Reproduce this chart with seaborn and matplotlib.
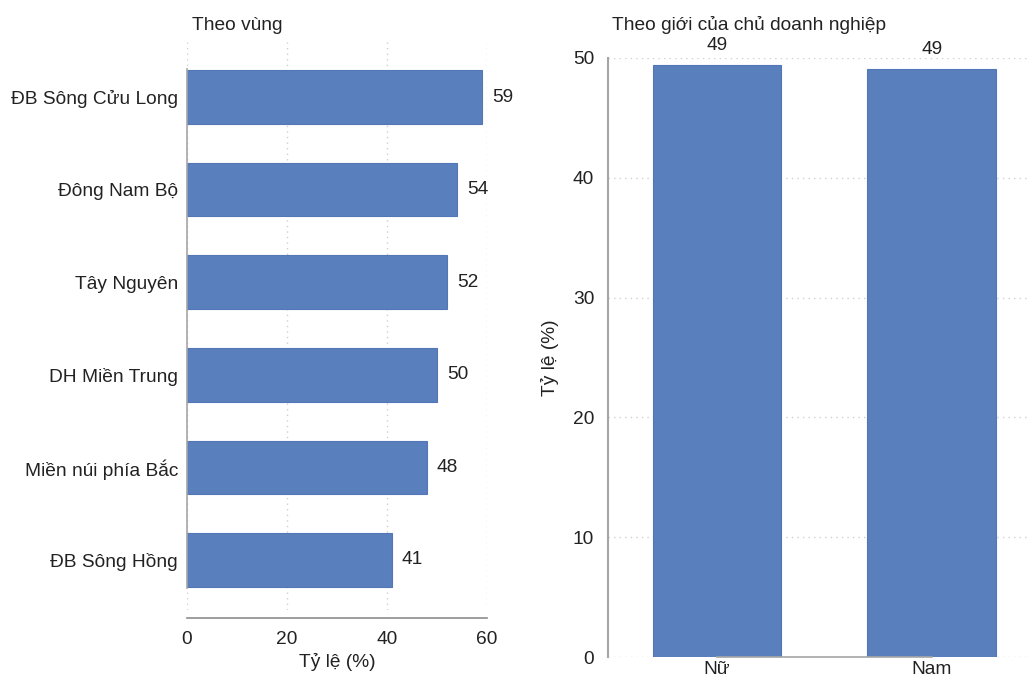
import matplotlib
matplotlib.use("Agg")
import matplotlib.pyplot as plt
import seaborn as sns
import pandas as pd

# Data
regions = ["ĐB Sông Cửu Long", "Đông Nam Bộ", "Tây Nguyên",
           "DH Miền Trung", "Miền núi phía Bắc", "ĐB Sông Hồng"]
region_values = [59, 54, 52, 50, 48, 41]

genders = ["Nữ", "Nam"]
gender_values = [49.4, 49.1]

region_title = "Theo vùng"
gender_title = "Theo giới của chủ doanh nghiệp"
axis_label = "Tỷ lệ (%)"

sns.set_theme(style="white")
plt.rcParams["font.family"] = ["Liberation Sans", "DejaVu Sans"]
plt.rcParams["text.color"] = "#222222"
plt.rcParams["axes.labelcolor"] = "#222222"
plt.rcParams["xtick.color"] = "#222222"
plt.rcParams["ytick.color"] = "#222222"

BAR = "#5a7fbd"
EDGE = "#5276b6"
SPINE = "#a6a6a6"
GRID = "#d0d0d0"
FS = 13.8

W, H = 1027, 681
fig = plt.figure(figsize=(W / 100, H / 100), dpi=100)


def px_axes(left, top, right, bottom):
    return fig.add_axes([left / W, 1 - bottom / H, (right - left) / W, (bottom - top) / H])


# ---- Left panel: by region (horizontal bars)
ax1 = px_axes(187, 42, 487, 610)
df1 = pd.DataFrame({"region": regions, "value": region_values})
sns.barplot(data=df1, x="value", y="region", orient="h", color=BAR,
            width=0.58, saturation=1, edgecolor=EDGE, linewidth=0.8, ax=ax1)
ax1.set_xlim(0, 60)
ax1.set_ylim(5.54, -0.594)
ax1.set_xticks([0, 20, 40, 60])
ax1.xaxis.grid(True, color=GRID, linestyle=(0, (1, 3)), linewidth=1)
ax1.set_axisbelow(True)
for s in ["top", "right"]:
    ax1.spines[s].set_visible(False)
ax1.spines["left"].set_color(SPINE)
ax1.spines["left"].set_linewidth(1.2)
ax1.spines["left"].set_bounds(-0.3, 5.3)
ax1.spines["bottom"].set_color("#8c8c8c")
ax1.spines["bottom"].set_linewidth(1.2)
ax1.spines["bottom"].set_position(("outward", 6))
ax1.tick_params(axis="y", length=0, pad=6.5, labelsize=FS)
ax1.tick_params(axis="x", length=5, width=1.2, color="#8c8c8c", pad=4, labelsize=FS)
ax1.set_ylabel("")
ax1.set_xlabel(axis_label, fontsize=FS, labelpad=4)
for i, v in enumerate(region_values):
    ax1.annotate(f"{v:.0f}", (v, i), xytext=(7, 0), textcoords="offset points",
                 ha="left", va="center", fontsize=FS)

fig.text(192 / W, 1 - 25 / H, region_title, ha="left", va="center", fontsize=FS)

# ---- Right panel: by owner gender (vertical bars)
ax2 = px_axes(608, 58, 1027, 657)
df2 = pd.DataFrame({"gender": genders, "value": gender_values})
sns.barplot(data=df2, x="gender", y="value", color=BAR, width=0.6,
            saturation=1, edgecolor=EDGE, linewidth=0.8, ax=ax2)
ax2.set_ylim(0, 50)
ax2.set_xlim(-0.507, 1.442)
ax2.set_yticks([0, 10, 20, 30, 40, 50])
ax2.yaxis.grid(True, color=GRID, linestyle=(0, (1, 3)), linewidth=1)
ax2.set_axisbelow(True)
for s in ["top", "right"]:
    ax2.spines[s].set_visible(False)
ax2.spines["left"].set_color(SPINE)
ax2.spines["left"].set_linewidth(1.5)
ax2.spines["bottom"].set_color(SPINE)
ax2.spines["bottom"].set_linewidth(1.2)
ax2.spines["bottom"].set_bounds(0, 1)
ax2.tick_params(axis="y", length=7, width=1.2, color="#c8c8c8", pad=3, labelsize=FS)
ax2.tick_params(axis="x", length=0, pad=3, labelsize=FS)
ax2.set_xlabel("")
ax2.set_ylabel(axis_label, fontsize=FS, labelpad=10)
for i, v in enumerate(gender_values):
    ax2.annotate(f"{v:.0f}", (i, v), xytext=(0, 14), textcoords="offset points",
                 ha="center", va="center", fontsize=FS)

fig.text(612 / W, 1 - 25 / H, gender_title, ha="left", va="center", fontsize=FS)

fig.savefig("out.png", dpi=100)
